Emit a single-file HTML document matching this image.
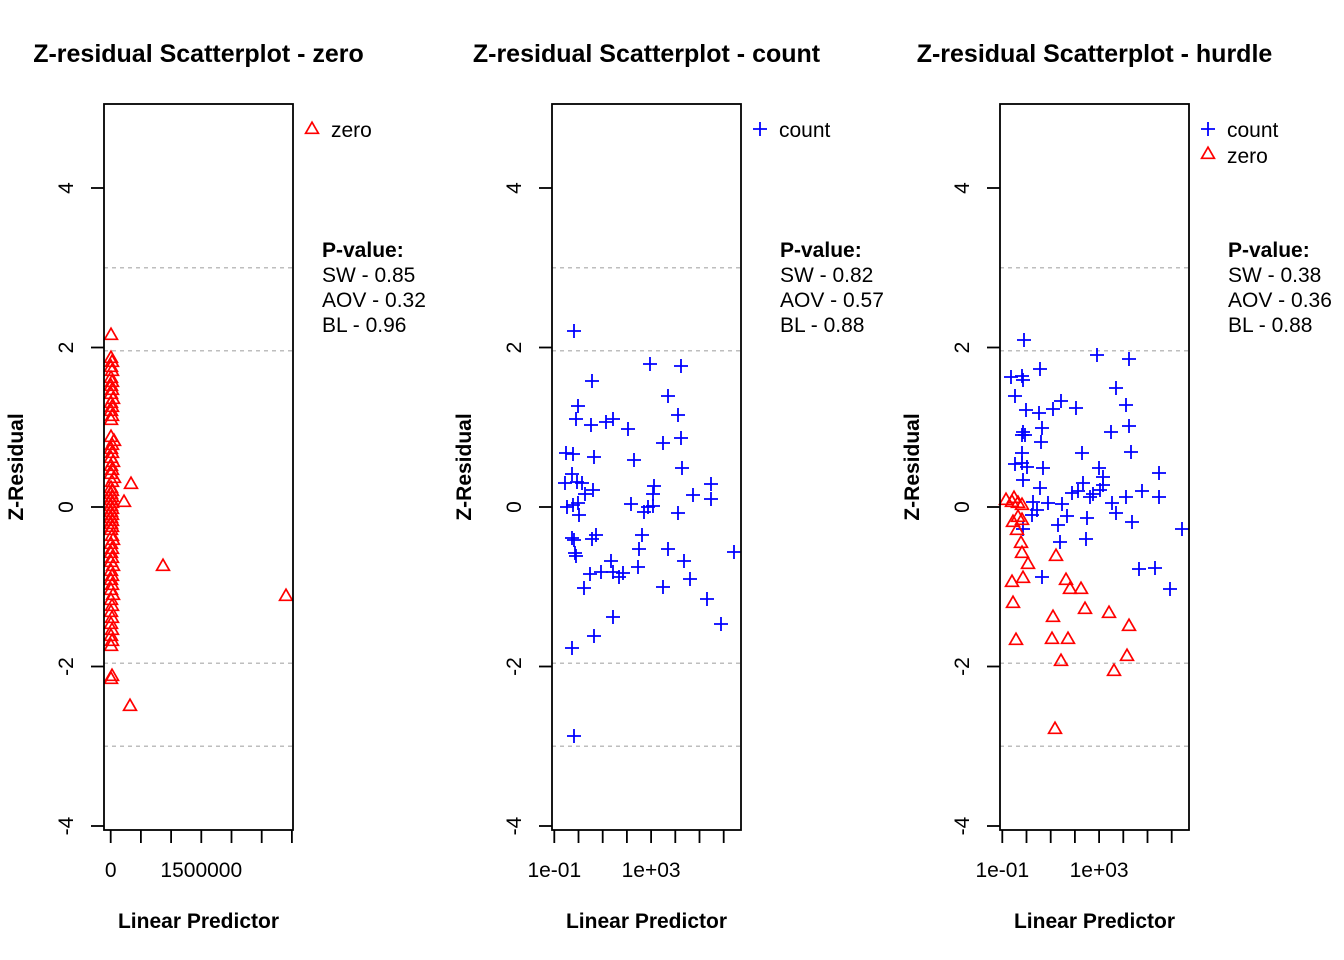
<!DOCTYPE html>
<html><head><meta charset="utf-8"><style>
html,body{margin:0;padding:0;background:#fff;}
svg{display:block;}
text{font-family:"Liberation Sans",Arial,sans-serif;fill:#000;}
.t{font-size:25px;font-weight:bold;text-anchor:middle;}
.l{font-size:21px;font-weight:bold;text-anchor:middle;}
.n{font-size:21px;}
.m{font-size:21px;text-anchor:middle;}
.b{font-size:21px;font-weight:bold;}
</style></head><body>
<svg width="1344" height="960" viewBox="0 0 1344 960" xmlns="http://www.w3.org/2000/svg">
<defs>
<path id="t" d="M0,-6.8 L6.4,4.3 L-6.4,4.3 Z" fill="none" stroke="#FF0000" stroke-width="1.7"/>
<path id="c" d="M-7,0H7M0,-7V7" fill="none" stroke="#0000FF" stroke-width="1.8"/>
</defs>
<rect width="1344" height="960" fill="#fff"/>

<!-- ============ PANEL 1 ============ -->
<g>
<text class="t" x="198.5" y="62">Z-residual Scatterplot - zero</text>
<g stroke="#BEBEBE" stroke-width="1.5" stroke-dasharray="4,4">
<line x1="104" y1="267.8" x2="293" y2="267.8"/>
<line x1="104" y1="350.7" x2="293" y2="350.7"/>
<line x1="104" y1="663.3" x2="293" y2="663.3"/>
<line x1="104" y1="746.3" x2="293" y2="746.3"/>
</g>
<g>
<use href="#t" x="111" y="335"/>
<use href="#t" x="111" y="358"/><use href="#t" x="112" y="362"/><use href="#t" x="111" y="367"/><use href="#t" x="112" y="371"/><use href="#t" x="111" y="378"/><use href="#t" x="112" y="382"/><use href="#t" x="111" y="386"/><use href="#t" x="112" y="390"/><use href="#t" x="111" y="394"/><use href="#t" x="113" y="399"/><use href="#t" x="111" y="403"/><use href="#t" x="112" y="407"/><use href="#t" x="111" y="411"/><use href="#t" x="112" y="416"/><use href="#t" x="111" y="420"/>
<use href="#t" x="111" y="437"/><use href="#t" x="114" y="441"/><use href="#t" x="112" y="445"/><use href="#t" x="111" y="449"/><use href="#t" x="112" y="453"/><use href="#t" x="111" y="458"/><use href="#t" x="113" y="462"/><use href="#t" x="111" y="466"/><use href="#t" x="112" y="470"/><use href="#t" x="111" y="474"/><use href="#t" x="114" y="478"/><use href="#t" x="112" y="482"/>
<use href="#t" x="111" y="488"/><use href="#t" x="112" y="491"/><use href="#t" x="111" y="494"/><use href="#t" x="112" y="497"/><use href="#t" x="111" y="500"/><use href="#t" x="112" y="503"/><use href="#t" x="111" y="506"/><use href="#t" x="112" y="509"/><use href="#t" x="111" y="512"/><use href="#t" x="112" y="515"/><use href="#t" x="111" y="518"/><use href="#t" x="112" y="521"/><use href="#t" x="111" y="524"/><use href="#t" x="112" y="527"/><use href="#t" x="111" y="530"/>
<use href="#t" x="112" y="536"/><use href="#t" x="113" y="540"/><use href="#t" x="111" y="544"/><use href="#t" x="112" y="549"/><use href="#t" x="111" y="553"/><use href="#t" x="112" y="558"/><use href="#t" x="111" y="562"/><use href="#t" x="113" y="566"/><use href="#t" x="111" y="571"/><use href="#t" x="112" y="576"/><use href="#t" x="111" y="580"/><use href="#t" x="112" y="585"/><use href="#t" x="111" y="590"/><use href="#t" x="113" y="595"/><use href="#t" x="111" y="600"/><use href="#t" x="112" y="606"/><use href="#t" x="111" y="612"/><use href="#t" x="112" y="618"/><use href="#t" x="111" y="624"/><use href="#t" x="112" y="630"/><use href="#t" x="111" y="636"/><use href="#t" x="112" y="641"/><use href="#t" x="111" y="646"/>
<use href="#t" x="112" y="676"/><use href="#t" x="111" y="679"/>
<use href="#t" x="131" y="484"/><use href="#t" x="124" y="502"/><use href="#t" x="163" y="566"/><use href="#t" x="286" y="596"/><use href="#t" x="130" y="706"/>
</g>
<rect x="104" y="104" width="189" height="726" fill="none" stroke="#000" stroke-width="1.8"/>
<g stroke="#000" stroke-width="1.8">
<line x1="91" y1="188" x2="104" y2="188"/><line x1="91" y1="347.5" x2="104" y2="347.5"/><line x1="91" y1="507" x2="104" y2="507"/><line x1="91" y1="666.5" x2="104" y2="666.5"/><line x1="91" y1="826" x2="104" y2="826"/>
<line x1="110.7" y1="830" x2="110.7" y2="843"/><line x1="140.9" y1="830" x2="140.9" y2="843"/><line x1="171.1" y1="830" x2="171.1" y2="843"/><line x1="201.3" y1="830" x2="201.3" y2="843"/><line x1="231.5" y1="830" x2="231.5" y2="843"/><line x1="261.7" y1="830" x2="261.7" y2="843"/><line x1="291.9" y1="830" x2="291.9" y2="843"/>
</g>
<text class="m" transform="translate(73,188) rotate(-90)">4</text>
<text class="m" transform="translate(73,347.5) rotate(-90)">2</text>
<text class="m" transform="translate(73,507) rotate(-90)">0</text>
<text class="m" transform="translate(73,666.5) rotate(-90)">-2</text>
<text class="m" transform="translate(73,826) rotate(-90)">-4</text>
<text class="m" x="110.7" y="877">0</text>
<text class="m" x="201.3" y="877">1500000</text>
<text class="l" x="198.5" y="928">Linear Predictor</text>
<text class="l" transform="translate(23,467) rotate(-90)">Z-Residual</text>
<use href="#t" x="312" y="129"/>
<text class="n" x="331" y="137">zero</text>
<text class="b" x="322" y="257">P-value:</text>
<text class="n" x="322" y="282">SW - 0.85</text>
<text class="n" x="322" y="307">AOV - 0.32</text>
<text class="n" x="322" y="332">BL - 0.96</text>
</g>

<!-- ============ PANEL 2 ============ -->
<g>
<text class="t" x="646.5" y="62">Z-residual Scatterplot - count</text>
<g stroke="#BEBEBE" stroke-width="1.5" stroke-dasharray="4,4">
<line x1="552" y1="267.8" x2="741" y2="267.8"/>
<line x1="552" y1="350.7" x2="741" y2="350.7"/>
<line x1="552" y1="663.3" x2="741" y2="663.3"/>
<line x1="552" y1="746.3" x2="741" y2="746.3"/>
</g>
<g>
<use href="#c" x="574" y="331"/><use href="#c" x="650" y="364"/><use href="#c" x="681" y="366"/><use href="#c" x="592" y="381"/><use href="#c" x="668" y="396"/><use href="#c" x="578" y="406"/><use href="#c" x="678" y="415"/><use href="#c" x="576" y="419"/><use href="#c" x="591" y="425"/><use href="#c" x="606" y="422"/><use href="#c" x="613" y="419"/><use href="#c" x="628" y="429"/><use href="#c" x="663" y="443"/><use href="#c" x="681" y="438"/><use href="#c" x="566" y="453"/><use href="#c" x="573" y="454"/><use href="#c" x="594" y="457"/><use href="#c" x="634" y="460"/><use href="#c" x="682" y="468"/><use href="#c" x="572" y="474"/><use href="#c" x="565" y="483"/><use href="#c" x="577" y="482"/><use href="#c" x="582" y="483"/><use href="#c" x="593" y="490"/><use href="#c" x="585" y="494"/><use href="#c" x="654" y="486"/><use href="#c" x="653" y="494"/><use href="#c" x="693" y="495"/><use href="#c" x="711" y="484"/><use href="#c" x="711" y="499"/>
<use href="#c" x="567" y="507"/><use href="#c" x="573" y="505"/><use href="#c" x="578" y="503"/><use href="#c" x="579" y="515"/><use href="#c" x="631" y="504"/><use href="#c" x="644" y="512"/><use href="#c" x="648" y="507"/><use href="#c" x="653" y="506"/><use href="#c" x="678" y="513"/><use href="#c" x="572" y="538"/><use href="#c" x="574" y="540"/><use href="#c" x="592" y="539"/><use href="#c" x="596" y="535"/><use href="#c" x="575" y="553"/><use href="#c" x="576" y="556"/><use href="#c" x="642" y="535"/><use href="#c" x="639" y="549"/><use href="#c" x="668" y="549"/><use href="#c" x="734" y="552"/><use href="#c" x="611" y="561"/><use href="#c" x="684" y="561"/><use href="#c" x="590" y="574"/><use href="#c" x="601" y="572"/><use href="#c" x="613" y="572"/><use href="#c" x="619" y="577"/><use href="#c" x="623" y="573"/><use href="#c" x="638" y="567"/><use href="#c" x="690" y="579"/><use href="#c" x="584" y="588"/><use href="#c" x="663" y="587"/><use href="#c" x="707" y="599"/><use href="#c" x="613" y="617"/><use href="#c" x="721" y="624"/><use href="#c" x="594" y="636"/><use href="#c" x="572" y="648"/><use href="#c" x="574" y="736"/>
</g>
<rect x="552" y="104" width="189" height="726" fill="none" stroke="#000" stroke-width="1.8"/>
<g stroke="#000" stroke-width="1.8">
<line x1="539" y1="188" x2="552" y2="188"/><line x1="539" y1="347.5" x2="552" y2="347.5"/><line x1="539" y1="507" x2="552" y2="507"/><line x1="539" y1="666.5" x2="552" y2="666.5"/><line x1="539" y1="826" x2="552" y2="826"/>
<line x1="554.3" y1="830" x2="554.3" y2="843"/><line x1="578.5" y1="830" x2="578.5" y2="843"/><line x1="602.7" y1="830" x2="602.7" y2="843"/><line x1="626.9" y1="830" x2="626.9" y2="843"/><line x1="651.1" y1="830" x2="651.1" y2="843"/><line x1="675.3" y1="830" x2="675.3" y2="843"/><line x1="699.5" y1="830" x2="699.5" y2="843"/><line x1="723.7" y1="830" x2="723.7" y2="843"/>
</g>
<text class="m" transform="translate(521,188) rotate(-90)">4</text>
<text class="m" transform="translate(521,347.5) rotate(-90)">2</text>
<text class="m" transform="translate(521,507) rotate(-90)">0</text>
<text class="m" transform="translate(521,666.5) rotate(-90)">-2</text>
<text class="m" transform="translate(521,826) rotate(-90)">-4</text>
<text class="m" x="554.3" y="877">1e-01</text>
<text class="m" x="651.1" y="877">1e+03</text>
<text class="l" x="646.5" y="928">Linear Predictor</text>
<text class="l" transform="translate(471,467) rotate(-90)">Z-Residual</text>
<use href="#c" x="760" y="129"/>
<text class="n" x="779" y="137">count</text>
<text class="b" x="780" y="257">P-value:</text>
<text class="n" x="780" y="282">SW - 0.82</text>
<text class="n" x="780" y="307">AOV - 0.57</text>
<text class="n" x="780" y="332">BL - 0.88</text>
</g>

<!-- ============ PANEL 3 ============ -->
<g>
<text class="t" x="1094.5" y="62">Z-residual Scatterplot - hurdle</text>
<g stroke="#BEBEBE" stroke-width="1.5" stroke-dasharray="4,4">
<line x1="1000" y1="267.8" x2="1189" y2="267.8"/>
<line x1="1000" y1="350.7" x2="1189" y2="350.7"/>
<line x1="1000" y1="663.3" x2="1189" y2="663.3"/>
<line x1="1000" y1="746.3" x2="1189" y2="746.3"/>
</g>
<g>
<use href="#c" x="1024" y="340"/><use href="#c" x="1097" y="355"/><use href="#c" x="1129" y="359"/><use href="#c" x="1011" y="377"/><use href="#c" x="1022" y="376"/><use href="#c" x="1023" y="380"/><use href="#c" x="1040" y="369"/><use href="#c" x="1116" y="388"/><use href="#c" x="1015" y="396"/><use href="#c" x="1061" y="401"/><use href="#c" x="1026" y="410"/><use href="#c" x="1039" y="413"/><use href="#c" x="1053" y="409"/><use href="#c" x="1076" y="408"/><use href="#c" x="1126" y="405"/><use href="#c" x="1129" y="426"/><use href="#c" x="1042" y="428"/><use href="#c" x="1111" y="432"/><use href="#c" x="1022" y="435"/><use href="#c" x="1025" y="435"/><use href="#c" x="1023" y="432"/><use href="#c" x="1041" y="442"/><use href="#c" x="1022" y="453"/><use href="#c" x="1082" y="453"/><use href="#c" x="1131" y="452"/><use href="#c" x="1015" y="464"/><use href="#c" x="1022" y="463"/><use href="#c" x="1027" y="467"/><use href="#c" x="1043" y="468"/><use href="#c" x="1099" y="468"/><use href="#c" x="1103" y="477"/><use href="#c" x="1023" y="480"/><use href="#c" x="1159" y="473"/><use href="#c" x="1040" y="488"/><use href="#c" x="1083" y="483"/><use href="#c" x="1103" y="485"/><use href="#c" x="1072" y="493"/><use href="#c" x="1078" y="491"/><use href="#c" x="1090" y="497"/><use href="#c" x="1093" y="494"/><use href="#c" x="1100" y="490"/><use href="#c" x="1142" y="491"/><use href="#c" x="1126" y="497"/><use href="#c" x="1159" y="497"/><use href="#c" x="1033" y="502"/><use href="#c" x="1037" y="510"/><use href="#c" x="1048" y="503"/><use href="#c" x="1062" y="504"/><use href="#c" x="1112" y="503"/>
<use href="#c" x="1067" y="516"/><use href="#c" x="1087" y="518"/><use href="#c" x="1116" y="513"/><use href="#c" x="1132" y="522"/><use href="#c" x="1182" y="529"/><use href="#c" x="1058" y="525"/><use href="#c" x="1032" y="515"/><use href="#c" x="1023" y="529"/><use href="#c" x="1060" y="542"/><use href="#c" x="1086" y="539"/><use href="#c" x="1139" y="569"/><use href="#c" x="1155" y="568"/><use href="#c" x="1042" y="577"/><use href="#c" x="1170" y="589"/>
</g>
<g>
<use href="#t" x="1006" y="500"/><use href="#t" x="1012" y="502"/><use href="#t" x="1018" y="503"/><use href="#t" x="1022" y="505"/><use href="#t" x="1014" y="498"/>
<use href="#t" x="1013" y="522"/><use href="#t" x="1018" y="517"/><use href="#t" x="1022" y="520"/><use href="#t" x="1017" y="530"/><use href="#t" x="1021" y="543"/><use href="#t" x="1022" y="553"/><use href="#t" x="1028" y="564"/><use href="#t" x="1056" y="556"/><use href="#t" x="1012" y="582"/><use href="#t" x="1023" y="578"/><use href="#t" x="1066" y="580"/><use href="#t" x="1070" y="589"/><use href="#t" x="1081" y="589"/><use href="#t" x="1013" y="603"/><use href="#t" x="1085" y="609"/><use href="#t" x="1109" y="613"/><use href="#t" x="1053" y="617"/><use href="#t" x="1129" y="626"/><use href="#t" x="1016" y="640"/><use href="#t" x="1052" y="639"/><use href="#t" x="1068" y="639"/><use href="#t" x="1061" y="661"/><use href="#t" x="1127" y="656"/><use href="#t" x="1114" y="671"/><use href="#t" x="1055" y="729"/>
</g>
<rect x="1000" y="104" width="189" height="726" fill="none" stroke="#000" stroke-width="1.8"/>
<g stroke="#000" stroke-width="1.8">
<line x1="987" y1="188" x2="1000" y2="188"/><line x1="987" y1="347.5" x2="1000" y2="347.5"/><line x1="987" y1="507" x2="1000" y2="507"/><line x1="987" y1="666.5" x2="1000" y2="666.5"/><line x1="987" y1="826" x2="1000" y2="826"/>
<line x1="1002.3" y1="830" x2="1002.3" y2="843"/><line x1="1026.5" y1="830" x2="1026.5" y2="843"/><line x1="1050.7" y1="830" x2="1050.7" y2="843"/><line x1="1074.9" y1="830" x2="1074.9" y2="843"/><line x1="1099.1" y1="830" x2="1099.1" y2="843"/><line x1="1123.3" y1="830" x2="1123.3" y2="843"/><line x1="1147.5" y1="830" x2="1147.5" y2="843"/><line x1="1171.7" y1="830" x2="1171.7" y2="843"/>
</g>
<text class="m" transform="translate(969,188) rotate(-90)">4</text>
<text class="m" transform="translate(969,347.5) rotate(-90)">2</text>
<text class="m" transform="translate(969,507) rotate(-90)">0</text>
<text class="m" transform="translate(969,666.5) rotate(-90)">-2</text>
<text class="m" transform="translate(969,826) rotate(-90)">-4</text>
<text class="m" x="1002.3" y="877">1e-01</text>
<text class="m" x="1099.1" y="877">1e+03</text>
<text class="l" x="1094.5" y="928">Linear Predictor</text>
<text class="l" transform="translate(919,467) rotate(-90)">Z-Residual</text>
<use href="#c" x="1208" y="129"/>
<text class="n" x="1227" y="137">count</text>
<use href="#t" x="1208" y="154"/>
<text class="n" x="1227" y="163">zero</text>
<text class="b" x="1228" y="257">P-value:</text>
<text class="n" x="1228" y="282">SW - 0.38</text>
<text class="n" x="1228" y="307">AOV - 0.36</text>
<text class="n" x="1228" y="332">BL - 0.88</text>
</g>
</svg>
</body></html>
